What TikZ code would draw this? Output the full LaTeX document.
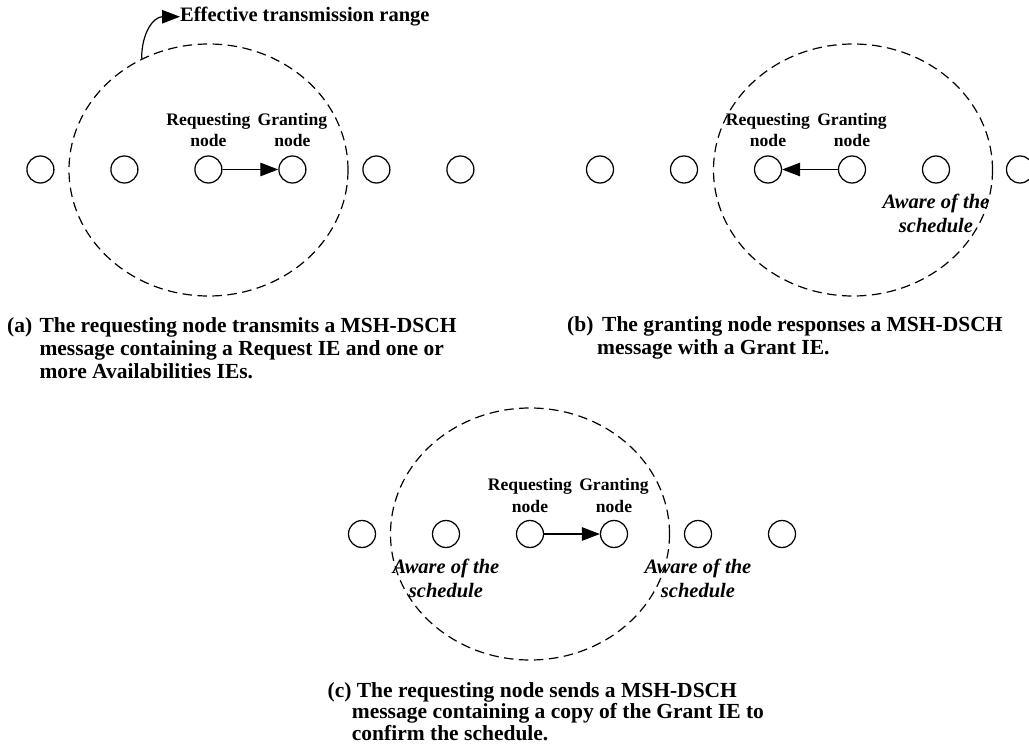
\documentclass[tikz,border=0pt]{standalone}
\usepackage{fontspec}
\setmainfont{Liberation Serif}
\usetikzlibrary{arrows.meta,shapes.geometric}

\begin{document}
\begin{tikzpicture}[x=1pt,y=-1pt,
  station/.style={circle,draw,line width=1.25pt,minimum size=27pt,inner sep=0pt},
  coverage/.style={ellipse,draw,dash pattern=on 9.5pt off 5.5pt,line width=1.2pt,
    minimum width=279pt,minimum height=252pt,inner sep=0pt},
  roletext/.style={font=\fontsize{17.6}{21.5}\selectfont\bfseries,inner sep=0pt,anchor=base},
  awaretext/.style={font=\fontsize{20.5}{24.4}\selectfont\bfseries\itshape,inner sep=0pt,anchor=base},
  captext/.style={font=\fontsize{21.5}{23}\selectfont\bfseries,inner sep=0pt,anchor=base west},
  msg/.style={line width=1.2pt,-{Triangle[length=18pt,width=13.5pt]}},
]
\clip (0,0) rectangle (1029,754);

% ---------- (a) request ----------
\foreach \i in {0,...,5}
  \node[station] (a\i) at ({40.4+84*\i},169.5) {};
\node[coverage] (ra) at (208.5,170) {};
\draw[msg] (a2) -- (a3);
\node[roletext] (a-req) at (208.4,125.3) {\begin{tabular}[t]{@{}c@{}}Requesting\\node\end{tabular}};
\node[roletext] (a-gnt) at (292.4,125.3) {\begin{tabular}[t]{@{}c@{}}Granting\\node\end{tabular}};
\node[font=\fontsize{20.5}{24}\selectfont\bfseries,inner sep=0pt,anchor=base west]
  (eff) at (180,21.7) {Effective transmission range};
\draw[msg] (ra.121.6) .. controls +(0,-27) and +(-26,0) .. (eff.west);
\node[captext] (cap-a-tag) at (7,333) {(a)};
\node[captext] (cap-a) at (39.3,333) {\begin{tabular}[t]{@{}l@{}}The requesting node transmits a MSH-DSCH\\
  message containing a Request IE and one or\\more Availabilities IEs.\end{tabular}};

% ---------- (b) grant ----------
\foreach \i in {0,...,5}
  \node[station] (b\i) at ({600+84*\i},169.5) {};
\node[coverage] (rb) at (853,170) {};
\draw[msg] (b3) -- (b2);
\node[roletext] (b-req) at (768,125.5) {\begin{tabular}[t]{@{}c@{}}Requesting\\node\end{tabular}};
\node[roletext] (b-gnt) at (852,125.5) {\begin{tabular}[t]{@{}c@{}}Granting\\node\end{tabular}};
\node[awaretext] (b-aware) at (936,208.3) {\begin{tabular}[t]{@{}c@{}}Aware of the\\schedule\end{tabular}};
\node[captext] (cap-b-tag) at (567,332) {(b)};
\node[captext] (cap-b) at (597,332) {\begin{tabular}[t]{@{}l@{}}\hspace*{5pt}The granting node responses a MSH-DSCH\\
  message with a Grant IE.\end{tabular}};

% ---------- (c) confirm ----------
\foreach \i in {0,...,5}
  \node[station] (c\i) at ({362+84*\i},534) {};
\node[coverage] (rc) at (530,534) {};
\draw[msg] (c2) -- (c3);
\node[roletext] (c-req) at (530,490.5) {\begin{tabular}[t]{@{}c@{}}Requesting\\node\end{tabular}};
\node[roletext] (c-gnt) at (614,490.5) {\begin{tabular}[t]{@{}c@{}}Granting\\node\end{tabular}};
\node[awaretext] (c-aware-l) at (446,573.3) {\begin{tabular}[t]{@{}c@{}}Aware of the\\schedule\end{tabular}};
\node[awaretext] (c-aware-r) at (698,573.3) {\begin{tabular}[t]{@{}c@{}}Aware of the\\schedule\end{tabular}};
\node[captext,font=\fontsize{21.5}{21.5}\selectfont\bfseries] (cap-c-tag) at (327.5,697) {(c)};
\node[captext,font=\fontsize{21.5}{21.5}\selectfont\bfseries] (cap-c) at (351.7,697)
  {\begin{tabular}[t]{@{}l@{}}\hspace*{5pt}The requesting node sends a MSH-DSCH\\
  message containing a copy of the Grant IE to\\confirm the schedule.\end{tabular}};
\end{tikzpicture}
\end{document}
